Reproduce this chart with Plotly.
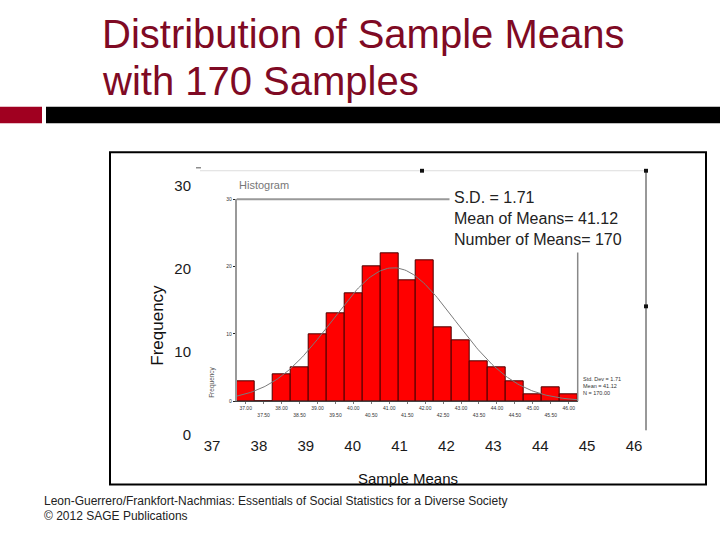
import numpy as np
import plotly.graph_objects as go

# ---- data ----
bin_centers = [37.0, 37.5, 38.0, 38.5, 39.0, 39.5, 40.0, 40.5, 41.0, 41.5,
               42.0, 42.5, 43.0, 43.5, 44.0, 44.5, 45.0, 45.5, 46.0]
frequencies = [3, 0, 4, 5, 10, 13, 16, 20, 22, 18, 21, 11, 9, 6, 5, 3, 1, 2, 1]
bin_labels = ["37.00", "37.50", "38.00", "38.50", "39.00", "39.50", "40.00",
              "40.50", "41.00", "41.50", "42.00", "42.50", "43.00", "43.50",
              "44.00", "44.50", "45.00", "45.50", "46.00"]
outer_x_ticks = [37, 38, 39, 40, 41, 42, 43, 44, 45, 46]
outer_y_ticks = [0, 10, 20, 30]
inner_y_ticks = [0, 10, 20, 30]
SD = 1.71
MEAN = 41.12
N = 170
BIN_WIDTH = 0.5

W, H = 720, 540
FONT = "Liberation Sans, Arial, sans-serif"


def px(x):
    return x / W


def py(y):
    return 1 - y / H


# fitted normal curve (SPSS overlay) from the displayed statistics
curve_x = np.linspace(36.75, 46.25, 200)
curve_y = N * BIN_WIDTH / (SD * np.sqrt(2 * np.pi)) * np.exp(-0.5 * ((curve_x - MEAN) / SD) ** 2)

fig = go.Figure()

# invisible anchor trace for the outer (slide) axes
fig.add_trace(go.Scatter(x=[outer_x_ticks[0]], y=[outer_y_ticks[0]], mode="markers",
                         marker=dict(opacity=0), hoverinfo="skip", showlegend=False,
                         xaxis="x", yaxis="y"))

fig.add_trace(go.Bar(x=bin_centers, y=frequencies, width=BIN_WIDTH,
                     marker=dict(color="#FF0000", line=dict(color="#4A0000", width=1)),
                     xaxis="x2", yaxis="y2", showlegend=False))

fig.add_trace(go.Scatter(x=curve_x, y=curve_y, mode="lines",
                         line=dict(color="#7A7A7A", width=1),
                         xaxis="x2", yaxis="y2", showlegend=False, hoverinfo="skip"))

# axis geometry (pixel based)
outer_x0, outer_x1 = 188.55, 657.45   # 36.5 .. 46.5
outer_y0, outer_y1 = 440, 182          # 0 .. 30
inner_x0, inner_x1 = 236.7, 577.7      # 36.75 .. 46.25
inner_y0, inner_y1 = 405, 196.5        # 0 .. 30

fig.update_layout(
    width=W, height=H,
    margin=dict(l=0, r=0, t=0, b=0),
    paper_bgcolor="white",
    plot_bgcolor="rgba(0,0,0,0)",
    bargap=0,
    font=dict(family=FONT, color="#222222"),
    xaxis=dict(domain=[px(outer_x0), px(outer_x1)], range=[36.5, 46.5],
               tickvals=outer_x_ticks, ticktext=[str(v) for v in outer_x_ticks],
               showgrid=False, zeroline=False, showline=False, ticks="",
               tickfont=dict(size=15, color="#1a1a1a"), anchor="y", fixedrange=True),
    yaxis=dict(domain=[py(outer_y0), py(outer_y1)], range=[0, 30],
               tickvals=outer_y_ticks, ticktext=[str(v) for v in outer_y_ticks],
               showgrid=False, zeroline=False, showline=False, ticks="",
               tickfont=dict(size=15, color="#1a1a1a"),
               anchor="free", position=px(191), fixedrange=True),
    xaxis2=dict(domain=[px(inner_x0), px(inner_x1)], range=[36.75, 46.25],
                tickvals=bin_centers,
                ticktext=[lab if i % 2 == 0 else "<br>" + lab for i, lab in enumerate(bin_labels)],
                showgrid=False, zeroline=False, showline=True, linecolor="#444", linewidth=1,
                ticks="outside", ticklen=2, tickcolor="#777",
                tickfont=dict(size=5, color="#333"), anchor="y2", tickangle=0, fixedrange=True),
    yaxis2=dict(domain=[py(inner_y0), py(inner_y1)], range=[0, 30],
                tickvals=inner_y_ticks, ticktext=[str(v) for v in inner_y_ticks],
                showgrid=False, zeroline=False, showline=True, linecolor="#999", linewidth=2,
                ticks="outside", ticklen=2, tickcolor="#222",
                tickfont=dict(size=5, color="#333"), anchor="x2", fixedrange=True),
)

shapes = []
# slide header bars
shapes.append(dict(type="rect", xref="paper", yref="paper", x0=px(0), x1=px(42),
                   y0=py(118), y1=py(101), fillcolor="#A00020", line=dict(width=0)))
shapes.append(dict(type="rect", xref="paper", yref="paper", x0=px(46), x1=px(720),
                   y0=py(118), y1=py(101), fillcolor="#000000", line=dict(width=0)))
# outer frame
shapes.append(dict(type="rect", xref="paper", yref="paper", x0=px(110), x1=px(706),
                   y0=py(491), y1=py(148), line=dict(color="black", width=2)))
# embedded image edges
shapes.append(dict(type="line", xref="paper", yref="paper", x0=px(200), x1=px(646),
                   y0=py(167), y1=py(167), line=dict(color="#DDDDDD", width=1)))
shapes.append(dict(type="line", xref="paper", yref="paper", x0=px(196), x1=px(201),
                   y0=py(164), y1=py(164), line=dict(color="#555", width=1)))
shapes.append(dict(type="line", xref="paper", yref="paper", x0=px(646), x1=px(646),
                   y0=py(167), y1=py(435), line=dict(color="#333", width=1)))
for (sx, sy) in [(422, 167), (646, 167), (646, 307)]:
    shapes.append(dict(type="rect", xref="paper", yref="paper", x0=px(sx - 2), x1=px(sx + 2),
                       y0=py(sy + 2), y1=py(sy - 2), fillcolor="#111", line=dict(width=0)))
# inner plot frame (top and right)
shapes.append(dict(type="line", xref="x2 domain", yref="y2 domain", x0=0, x1=1, y0=1, y1=1,
                   line=dict(color="#999", width=2)))
shapes.append(dict(type="line", xref="x2 domain", yref="y2 domain", x0=1, x1=1, y0=0, y1=1,
                   line=dict(color="#888", width=1.5)))
fig.update_layout(shapes=shapes)


def ann(text, x, y, size, color, xanchor="center", **kw):
    d = dict(text=text, x=px(x), y=py(y), xref="paper", yref="paper",
             xanchor=xanchor, yanchor="middle", showarrow=False,
             font=dict(size=size, color=color, family=FONT))
    d.update(kw)
    return d


annotations = [
    ann("Distribution of Sample Means", 100, 26, 40, "#7F0A24", xanchor="left"),
    ann("with 170 Samples", 100, 74, 40, "#7F0A24", xanchor="left"),
    ann("Frequency", 158, 327, 17, "#111", textangle=-90),
    ann("Sample Means", 408, 485, 15, "#111"),
    ann("S.D. = 1.71<br>Mean of Means= 41.12<br>Number of Means= 170", 449, 216, 16, "#222",
        xanchor="left", align="left", bgcolor="white", borderpad=4),
    ann("Histogram", 237, 182, 11, "#777", xanchor="left"),
    ann("Frequency", 212, 386, 6.5, "#555", textangle=-90),
    ann("Std. Dev = 1.71<br>Mean = 41.12<br>N = 170.00", 581, 389, 5.5, "#333",
        xanchor="left", align="left"),
    ann("Leon-Guerrero/Frankfort-Nachmias: Essentials of Social Statistics for a Diverse Society",
        42, 508, 12, "#222", xanchor="left"),
    ann("© 2012 SAGE Publications", 42, 523, 12, "#222", xanchor="left"),
]
fig.update_layout(annotations=annotations)

fig.write_html("out.html")
